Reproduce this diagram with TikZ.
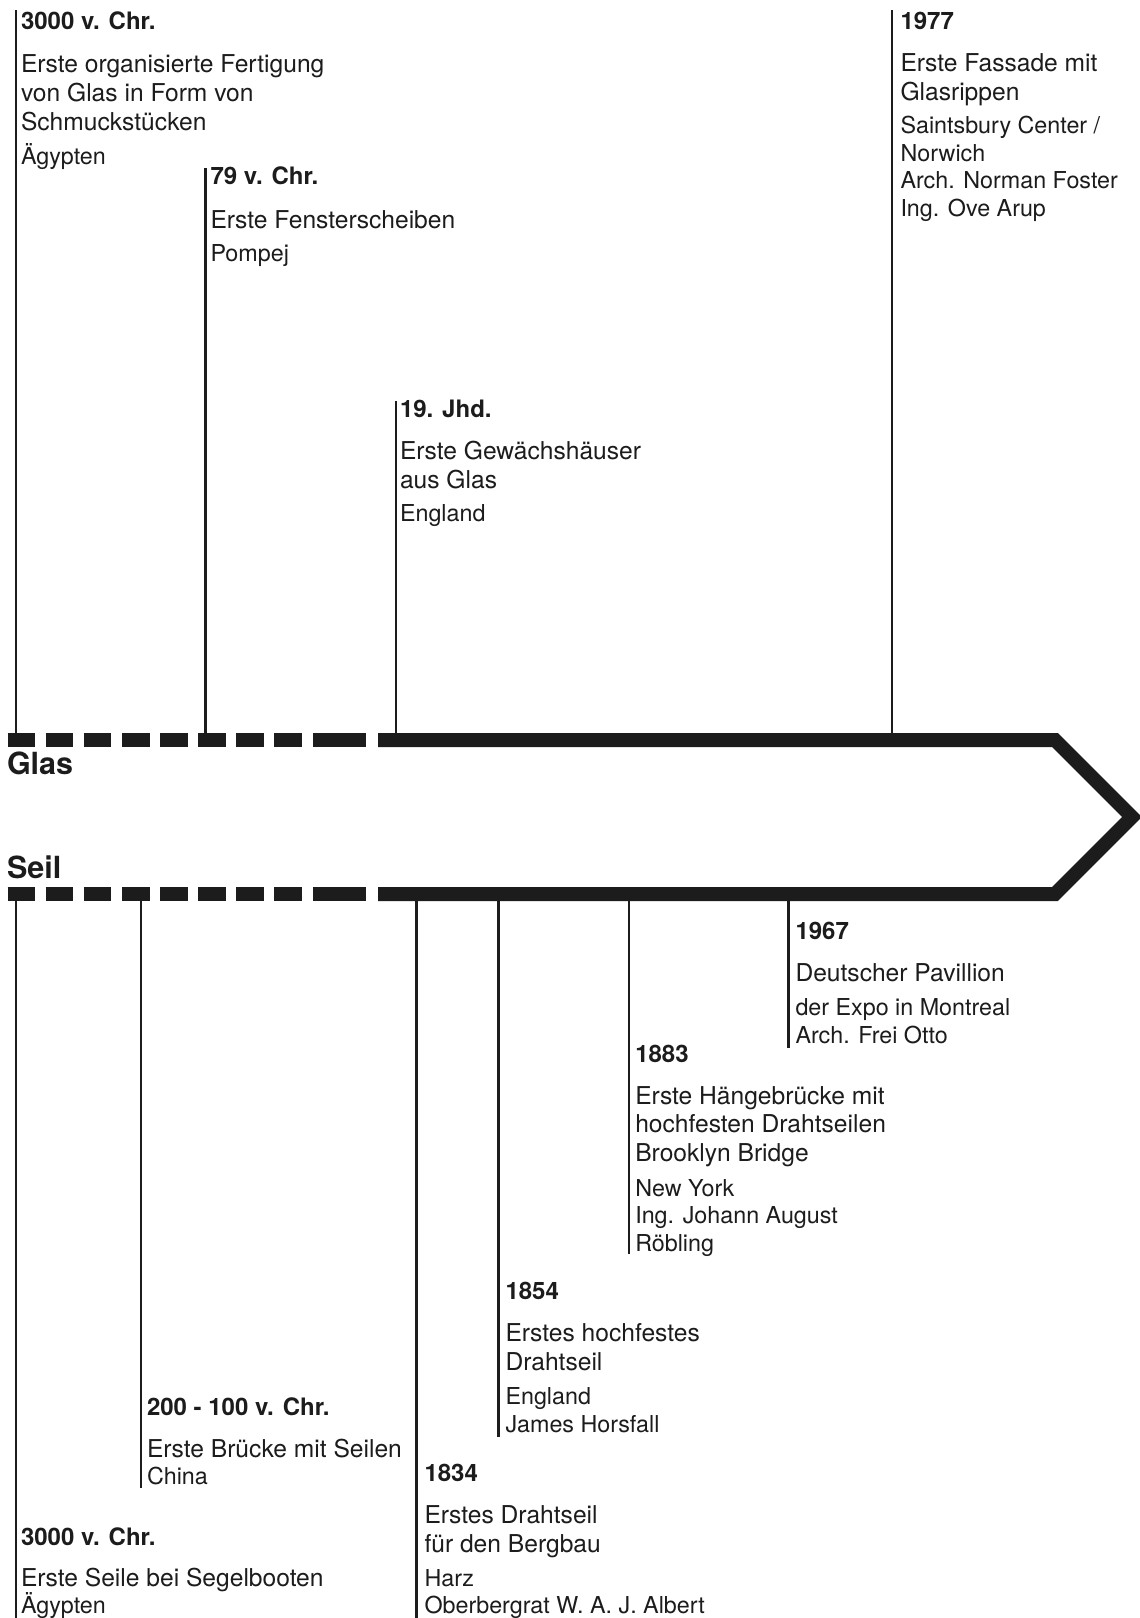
\documentclass[tikz,border=0pt]{standalone}
\usepackage{fontspec}
\setmainfont{TeX Gyre Heros}
\definecolor{ink}{HTML}{1C1C1C}
\begin{document}
\begin{tikzpicture}[x=1pt,y=-1pt,
  every node/.style={inner sep=0pt, outer sep=0pt, anchor=base west, text=ink},
  title/.style={font=\fontsize{24}{28}\selectfont\bfseries},
  body/.style={font=\fontsize{24.6}{29}\selectfont},
  sub/.style={font=\fontsize{23.3}{27.5}\selectfont},
  lbl/.style={font=\fontsize{30.5}{36}\selectfont\bfseries},
  tick/.style={draw=ink, line width=2.2pt},
  bar/.style={draw=ink, line width=14pt, line join=miter, line cap=butt}]
\useasboundingbox (0,0) rectangle (1140,1618);
\fill[white] (0,0) rectangle (1140,1618);

% ---------- timeline bars ----------
\foreach \s/\e in {7.5/35,45.5/73,83.5/111,122/149.5,160/187.5,198/225.5,236/263.5,274/301.5,313/366}{
  \draw[bar] (\s,740) -- (\e,740);
  \draw[bar] (\s,894) -- (\e,894);
}
\coordinate (gstart) at (378,740);
\coordinate (gcorner) at (1055,740);
\coordinate (tip) at (1132,817);
\coordinate (scorner) at (1055,894);
\coordinate (sstart) at (378,894);
\draw[bar] (gstart) -- (gcorner) -- (tip) -- (scorner) -- (sstart);

\node[lbl] (glas) at (7,774.3) {Glas};
\node[lbl] (seil) at (7,878.3) {Seil};

% ---------- Glas events ----------
% 3000 v. Chr.
\coordinate (g1top) at (16,10);   \coordinate (g1bar) at (16,740);
\draw[tick] (g1top) -- (g1bar);
\node[title] (g1t) at (21,29.3) {3000 v. Chr.};
\node[body]  (g1a) at (21,72.7) {Erste organisierte Fertigung};
\node[body]  (g1b) at (21,101.7) {von Glas in Form von};
\node[body]  (g1c) at (21,130.5) {Schmuckstücken};
\node[sub]   (g1d) at (21,164.5) {Ägypten};

% 79 v. Chr.
\coordinate (g2top) at (205.5,168); \coordinate (g2bar) at (205.5,740);
\draw[tick] (g2top) -- (g2bar);
\node[title] (g2t) at (210.5,184.5) {79 v. Chr.};
\node[body]  (g2a) at (210.5,228) {Erste Fensterscheiben};
\node[sub]   (g2b) at (210.5,261) {Pompej};

% 19. Jhd.
\coordinate (g3top) at (396,401); \coordinate (g3bar) at (396,740);
\draw[tick] (g3top) -- (g3bar);
\node[title] (g3t) at (400,417.3) {19. Jhd.};
\node[body]  (g3a) at (400,459.3) {Erste Gewächshäuser};
\node[body]  (g3b) at (400,488.3) {aus Glas};
\node[sub]   (g3c) at (400,521.7) {England};

% 1977
\coordinate (g4top) at (892.3,10); \coordinate (g4bar) at (892.3,740);
\draw[tick] (g4top) -- (g4bar);
\node[title] (g4t) at (900.5,29) {1977};
\node[body]  (g4a) at (900.5,71.7) {Erste Fassade mit};
\node[body]  (g4b) at (900.5,100) {Glasrippen};
\node[sub]   (g4c) at (900.5,133.3) {Saintsbury Center /};
\node[sub]   (g4d) at (900.5,161) {Norwich};
\node[sub]   (g4e) at (900.5,188.3) {Arch. Norman Foster};
\node[sub]   (g4f) at (900.5,216) {Ing. Ove Arup};

% ---------- Seil events ----------
% 3000 v. Chr.
\coordinate (s1bar) at (16,894); \coordinate (s1end) at (16,1618);
\draw[tick] (s1bar) -- (s1end);
\node[title] (s1t) at (21,1545) {3000 v. Chr.};
\node[body]  (s1a) at (21,1586) {Erste Seile bei Segelbooten};
\node[sub]   (s1b) at (21,1613) {Ägypten};

% 200 - 100 v. Chr.
\coordinate (s2bar) at (141,894); \coordinate (s2end) at (141,1488);
\draw[tick] (s2bar) -- (s2end);
\node[title] (s2t) at (147,1415) {200 - 100 v. Chr.};
\node[body]  (s2a) at (147,1457) {Erste Brücke mit Seilen};
\node[sub]   (s2b) at (147,1484) {China};

% 1834
\coordinate (s3bar) at (416.5,894); \coordinate (s3end) at (416.5,1618);
\draw[tick] (s3bar) -- (s3end);
\node[title] (s3t) at (424.5,1481) {1834};
\node[body]  (s3a) at (424.5,1523) {Erstes Drahtseil};
\node[body]  (s3b) at (424.5,1552) {für den Bergbau};
\node[sub]   (s3c) at (424.5,1586) {Harz};
\node[sub]   (s3d) at (424.5,1613) {Oberbergrat W. A. J. Albert};

% 1854
\coordinate (s4bar) at (498.5,894); \coordinate (s4end) at (498.5,1437);
\draw[tick] (s4bar) -- (s4end);
\node[title] (s4t) at (505.5,1299.3) {1854};
\node[body]  (s4a) at (505.5,1341) {Erstes hochfestes};
\node[body]  (s4b) at (505.5,1370) {Drahtseil};
\node[sub]   (s4c) at (505.5,1404) {England};
\node[sub]   (s4d) at (505.5,1432) {James Horsfall};

% 1883
\coordinate (s5bar) at (629.3,894); \coordinate (s5end) at (629.3,1254);
\draw[tick] (s5bar) -- (s5end);
\node[title] (s5t) at (635.3,1062.3) {1883};
\node[body]  (s5a) at (635.3,1104) {Erste Hängebrücke mit};
\node[body]  (s5b) at (635.3,1132.5) {hochfesten Drahtseilen};
\node[body]  (s5c) at (635.3,1161) {Brooklyn Bridge};
\node[sub]   (s5d) at (635.3,1196) {New York};
\node[sub]   (s5e) at (635.3,1223.5) {Ing. Johann August};
\node[sub]   (s5f) at (635.3,1251.7) {Röbling};

% 1967
\coordinate (s6bar) at (788.5,894); \coordinate (s6end) at (788.5,1048);
\draw[tick] (s6bar) -- (s6end);
\node[title] (s6t) at (795.5,939) {1967};
\node[body]  (s6a) at (795.5,981.5) {Deutscher Pavillion};
\node[sub]   (s6b) at (795.5,1015) {der Expo in Montreal};
\node[sub]   (s6c) at (795.5,1043) {Arch. Frei Otto};
\end{tikzpicture}
\end{document}
